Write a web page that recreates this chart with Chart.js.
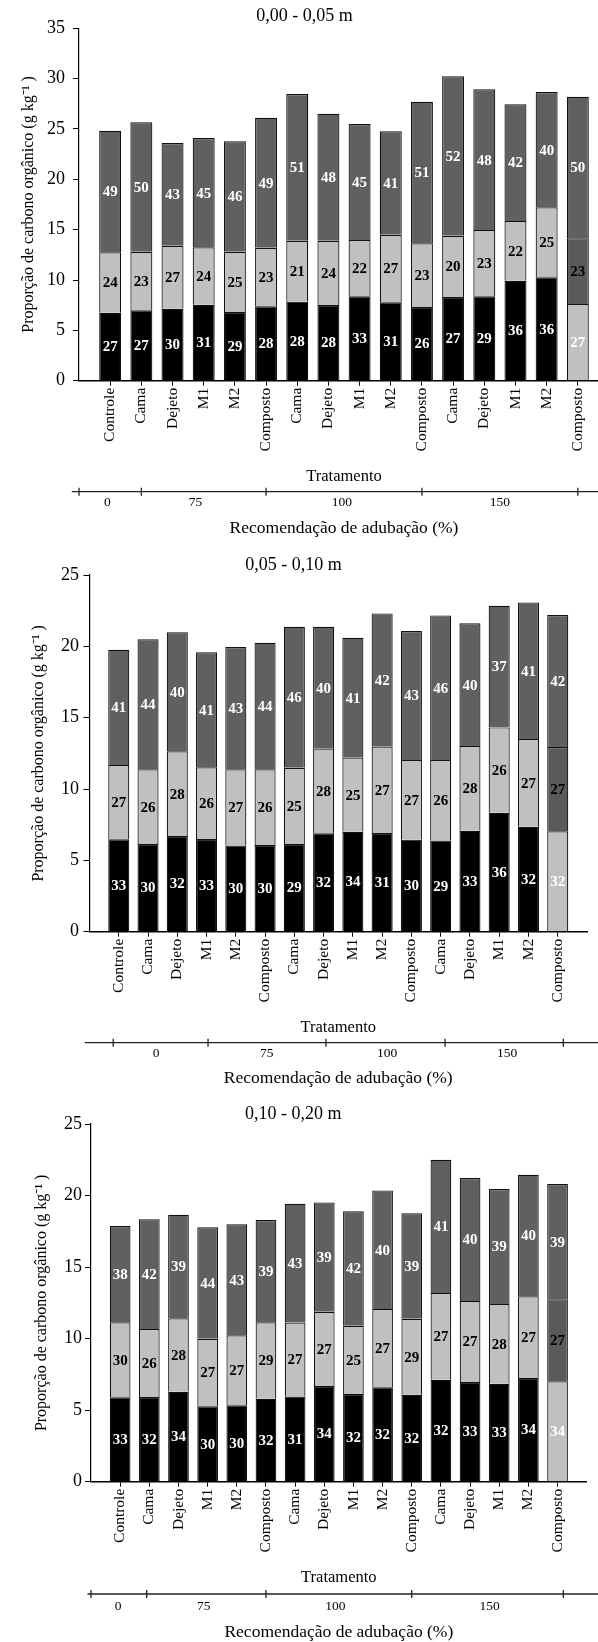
<!DOCTYPE html>
<html>
<head>
<meta charset="utf-8">
<script src="https://cdn.jsdelivr.net/npm/chart.js@4/dist/chart.umd.min.js"></script>
<style>
  body { margin: 0; background: #fff; }
  #wrap { position: relative; width: 598px; height: 1642px; overflow: hidden; background: #fff; }
  canvas { position: absolute; left: 0; }
</style>
</head>
<body>
<div id="wrap">
  <canvas id="c1" width="688" height="545" style="top:0px"></canvas>
  <canvas id="c2" width="676" height="545" style="top:545px"></canvas>
  <canvas id="c3" width="678" height="552" style="top:1090px"></canvas>
</div>
<script>
// Tratamentos (eixo x)
const tratamentos = ["Controle", "Cama", "Dejeto", "M1", "M2", "Composto", "Cama", "Dejeto", "M1", "M2", "Composto", "Cama", "Dejeto", "M1", "M2", "Composto"];
const doses = ["0", "75", "100", "150"];

// 0,00 - 0,05 m  (g kg-1 of each fraction)
const inf1 = [6.75, 6.99, 7.15, 7.55, 6.82, 7.39, 7.85, 7.52, 8.38, 7.78, 7.32, 8.31, 8.38, 9.93, 10.27, 7.62];
const med1 = [6.0, 5.82, 6.26, 5.7, 5.99, 5.82, 6.05, 6.38, 5.59, 6.72, 6.32, 6.09, 6.59, 5.93, 6.95, 6.52];
const sup1 = [12.08, 12.85, 10.19, 10.85, 10.96, 12.91, 14.57, 12.61, 11.52, 10.27, 14.07, 15.83, 13.97, 11.6, 11.45, 14.06];
const pInf1 = [27, 27, 30, 31, 29, 28, 28, 28, 33, 31, 26, 27, 29, 36, 36, 27];
const pMed1 = [24, 23, 27, 24, 25, 23, 21, 24, 22, 27, 23, 20, 23, 22, 25, 23];
const pSup1 = [49, 50, 43, 45, 46, 49, 51, 48, 45, 41, 51, 52, 48, 42, 40, 50];

// 0,05 - 0,10 m
const inf2 = [6.48, 6.15, 6.71, 6.5, 6.05, 6.08, 6.15, 6.9, 7.01, 6.92, 6.45, 6.4, 7.08, 8.34, 7.36, 7.04];
const med2 = [5.2, 5.23, 5.93, 5.02, 5.33, 5.3, 5.34, 5.93, 5.19, 6.05, 5.58, 5.63, 5.93, 5.98, 6.14, 5.9];
const sup2 = [8.08, 9.11, 8.34, 8.06, 8.57, 8.87, 9.88, 8.54, 8.4, 9.34, 9.04, 10.14, 8.6, 8.53, 9.58, 9.25];
const pInf2 = [33, 30, 32, 33, 30, 30, 29, 32, 34, 31, 30, 29, 33, 36, 32, 32];
const pMed2 = [27, 26, 28, 26, 27, 26, 25, 28, 25, 27, 27, 26, 28, 26, 27, 27];
const pSup2 = [41, 44, 40, 41, 43, 44, 46, 40, 41, 42, 43, 46, 40, 37, 41, 42];

// 0,10 - 0,20 m
const inf3 = [5.9, 5.92, 6.29, 5.27, 5.34, 5.8, 5.95, 6.69, 6.13, 6.6, 6.08, 7.13, 6.97, 6.85, 7.25, 7.02];
const med3 = [5.24, 4.75, 5.13, 4.72, 4.89, 5.34, 5.18, 5.19, 4.77, 5.47, 5.31, 6.06, 5.66, 5.57, 5.71, 5.73];
const sup3 = [6.73, 7.67, 7.24, 7.79, 7.76, 7.15, 8.29, 7.64, 8.0, 8.29, 7.37, 9.31, 8.59, 8.03, 8.49, 8.05];
const pInf3 = [33, 32, 34, 30, 30, 32, 31, 34, 32, 32, 32, 32, 33, 33, 34, 34];
const pMed3 = [30, 26, 28, 27, 27, 29, 27, 27, 25, 27, 29, 27, 27, 28, 27, 27];
const pSup3 = [38, 42, 39, 44, 43, 39, 43, 39, 42, 40, 39, 41, 40, 39, 40, 39];

const FONT = "'Liberation Serif', 'Times New Roman', serif";

// percent labels inside each segment
const segLabels = {
  id: "segLabels",
  afterDatasetsDraw(chart, args, opts) {
    const ctx = chart.ctx;
    ctx.save();
    ctx.font = "bold 15px " + FONT;
    ctx.textAlign = "center";
    ctx.textBaseline = "middle";
    chart.data.datasets.forEach((ds, d) => {
      chart.getDatasetMeta(d).data.forEach((bar, i) => {
        ctx.fillStyle = opts.colors[d];
        ctx.fillText(opts.values[d][i], bar.x, (bar.y + bar.base) / 2 + 1);
      });
    });
    ctx.restore();
  }
};

// second axis with the fertilization groups
const recAxis = {
  id: "recAxis",
  afterDraw(chart, args, o) {
    const x = chart.scales.x, ctx = chart.ctx;
    const yl = x.bottom + o.lineOff;
    ctx.save();
    ctx.strokeStyle = "#222";
    ctx.lineWidth = 1.3;
    ctx.beginPath();
    ctx.moveTo(x.getPixelForValue(o.start), yl);
    ctx.lineTo(chart.width, yl);
    o.ticks.forEach(v => {
      const px = x.getPixelForValue(v);
      ctx.moveTo(px, yl - 4);
      ctx.lineTo(px, yl + 4);
    });
    ctx.stroke();
    ctx.fillStyle = "#000";
    ctx.textAlign = "center";
    ctx.textBaseline = "middle";
    ctx.font = "13.5px " + FONT;
    doses.forEach((t, k) => ctx.fillText(t, x.getPixelForValue(o.labelAt[k]), x.bottom + o.labelOff));
    ctx.font = "17.5px " + FONT;
    ctx.fillText("Recomendação de adubação (%)", (chart.chartArea.left + chart.chartArea.right) / 2, x.bottom + o.titleOff);
    ctx.restore();
  }
};

function pts(arr) {
  return arr.map((v, i) => ({ x: i + 1, y: v }));
}

function makeChart(id, s) {
  const last = tratamentos.length - 1;
  const c = (base, alt) => tratamentos.map((t, i) => (i === last ? alt : base));
  return new Chart(document.getElementById(id).getContext("2d"), {
    type: "bar",
    data: {
      datasets: [
        { data: pts(s.inf), backgroundColor: c("#000000", "#c0c0c0") },
        { data: pts(s.med), backgroundColor: c("#c0c0c0", "#5a5a5a") },
        { data: pts(s.sup), backgroundColor: "#606060" }
      ]
    },
    options: {
      responsive: false,
      animation: false,
      layout: { padding: { left: 0, right: s.padRight, top: 0, bottom: s.padBottom } },
      datasets: {
        bar: { borderColor: "#111", borderWidth: 1.2, barPercentage: s.barPct, categoryPercentage: 1 }
      },
      scales: {
        x: {
          type: "linear",
          stacked: true,
          min: 0,
          max: 17,
          offset: false,
          afterFit: sc => { sc.height = 106; },
          afterBuildTicks: sc => { sc.ticks = tratamentos.map((t, i) => ({ value: i + 1 })); },
          border: { color: "#000", width: 1.5 },
          grid: { display: true, drawOnChartArea: false, tickLength: 5, color: "#000", offset: false },
          ticks: {
            autoSkip: false,
            minRotation: 90,
            maxRotation: 90,
            padding: 2,
            color: "#000",
            font: { family: FONT, size: 15.5 },
            callback: v => tratamentos[v - 1]
          },
          title: { display: true, text: "Tratamento", color: "#000", padding: 0, font: { family: FONT, size: 16.5 } }
        },
        y: {
          stacked: true,
          min: 0,
          max: s.yMax,
          afterFit: sc => { sc.width = s.yWidth; },
          border: { color: "#000", width: 1.2 },
          grid: { display: true, drawOnChartArea: false, tickLength: 6, color: "#000" },
          ticks: { stepSize: 5, padding: s.yPad, color: "#000", font: { family: FONT, size: 18 } },
          title: {
            display: true,
            text: "Proporção de carbono orgânico (g kg⁻¹ )",
            color: "#000",
            padding: { top: s.yTitlePad, bottom: 0 },
            font: { family: FONT, size: 16 }
          }
        }
      },
      plugins: {
        legend: { display: false },
        tooltip: { enabled: false },
        title: {
          display: true,
          text: s.title,
          color: "#000",
          font: { family: FONT, size: 18, weight: "normal", lineHeight: 1 },
          padding: { top: s.titleTop, bottom: s.titleBottom }
        },
        segLabels: { values: [s.pInf, s.pMed, s.pSup], colors: ["#ffffff", "#000000", "#ffffff"] },
        recAxis: s.rec
      }
    },
    plugins: [segLabels, recAxis]
  });
}

makeChart("c1", {
  title: "0,00 - 0,05 m", inf: inf1, med: med1, sup: sup1, pInf: pInf1, pMed: pMed1, pSup: pSup1,
  yMax: 35, yWidth: 79, yPad: 8, yTitlePad: 18.8, padRight: 79, padBottom: 58.3, barPct: 0.705,
  titleTop: 7.5, titleBottom: 2.8,
  rec: { start: -0.23, ticks: [0, 2, 6, 11, 16], labelAt: [0.91, 3.74, 8.43, 13.5], lineOff: 5, labelOff: 15.3, titleOff: 41.3 }
});

makeChart("c2", {
  title: "0,05 - 0,10 m", inf: inf2, med: med2, sup: sup2, pInf: pInf2, pMed: pMed2, pSup: pSup2,
  yMax: 25, yWidth: 89.5, yPad: 4.5, yTitlePad: 28.8, padRight: 89, padBottom: 52.3, barPct: 0.72,
  titleTop: 11.5, titleBottom: 0.5,
  rec: { start: -0.16, ticks: [0.81, 4.05, 8.08, 12.15, 16.19], labelAt: [2.28, 6.06, 10.17, 14.27], lineOff: 5, labelOff: 15.8, titleOff: 41 }
});

makeChart("c3", {
  title: "0,10 - 0,20 m", inf: inf3, med: med3, sup: sup3, pInf: pInf3, pMed: pMed3, pSup: pSup3,
  yMax: 25, yWidth: 91, yPad: 3, yTitlePad: 32.3, padRight: 91.3, padBottom: 54.3, barPct: 0.71,
  titleTop: 15.5, titleBottom: 0.5,
  rec: { start: -0.12, ticks: [0, 1.91, 6, 11, 16.2], labelAt: [0.93, 3.87, 8.38, 13.67], lineOff: 6.3, labelOff: 18.8, titleOff: 45 }
});
</script>
</body>
</html>
